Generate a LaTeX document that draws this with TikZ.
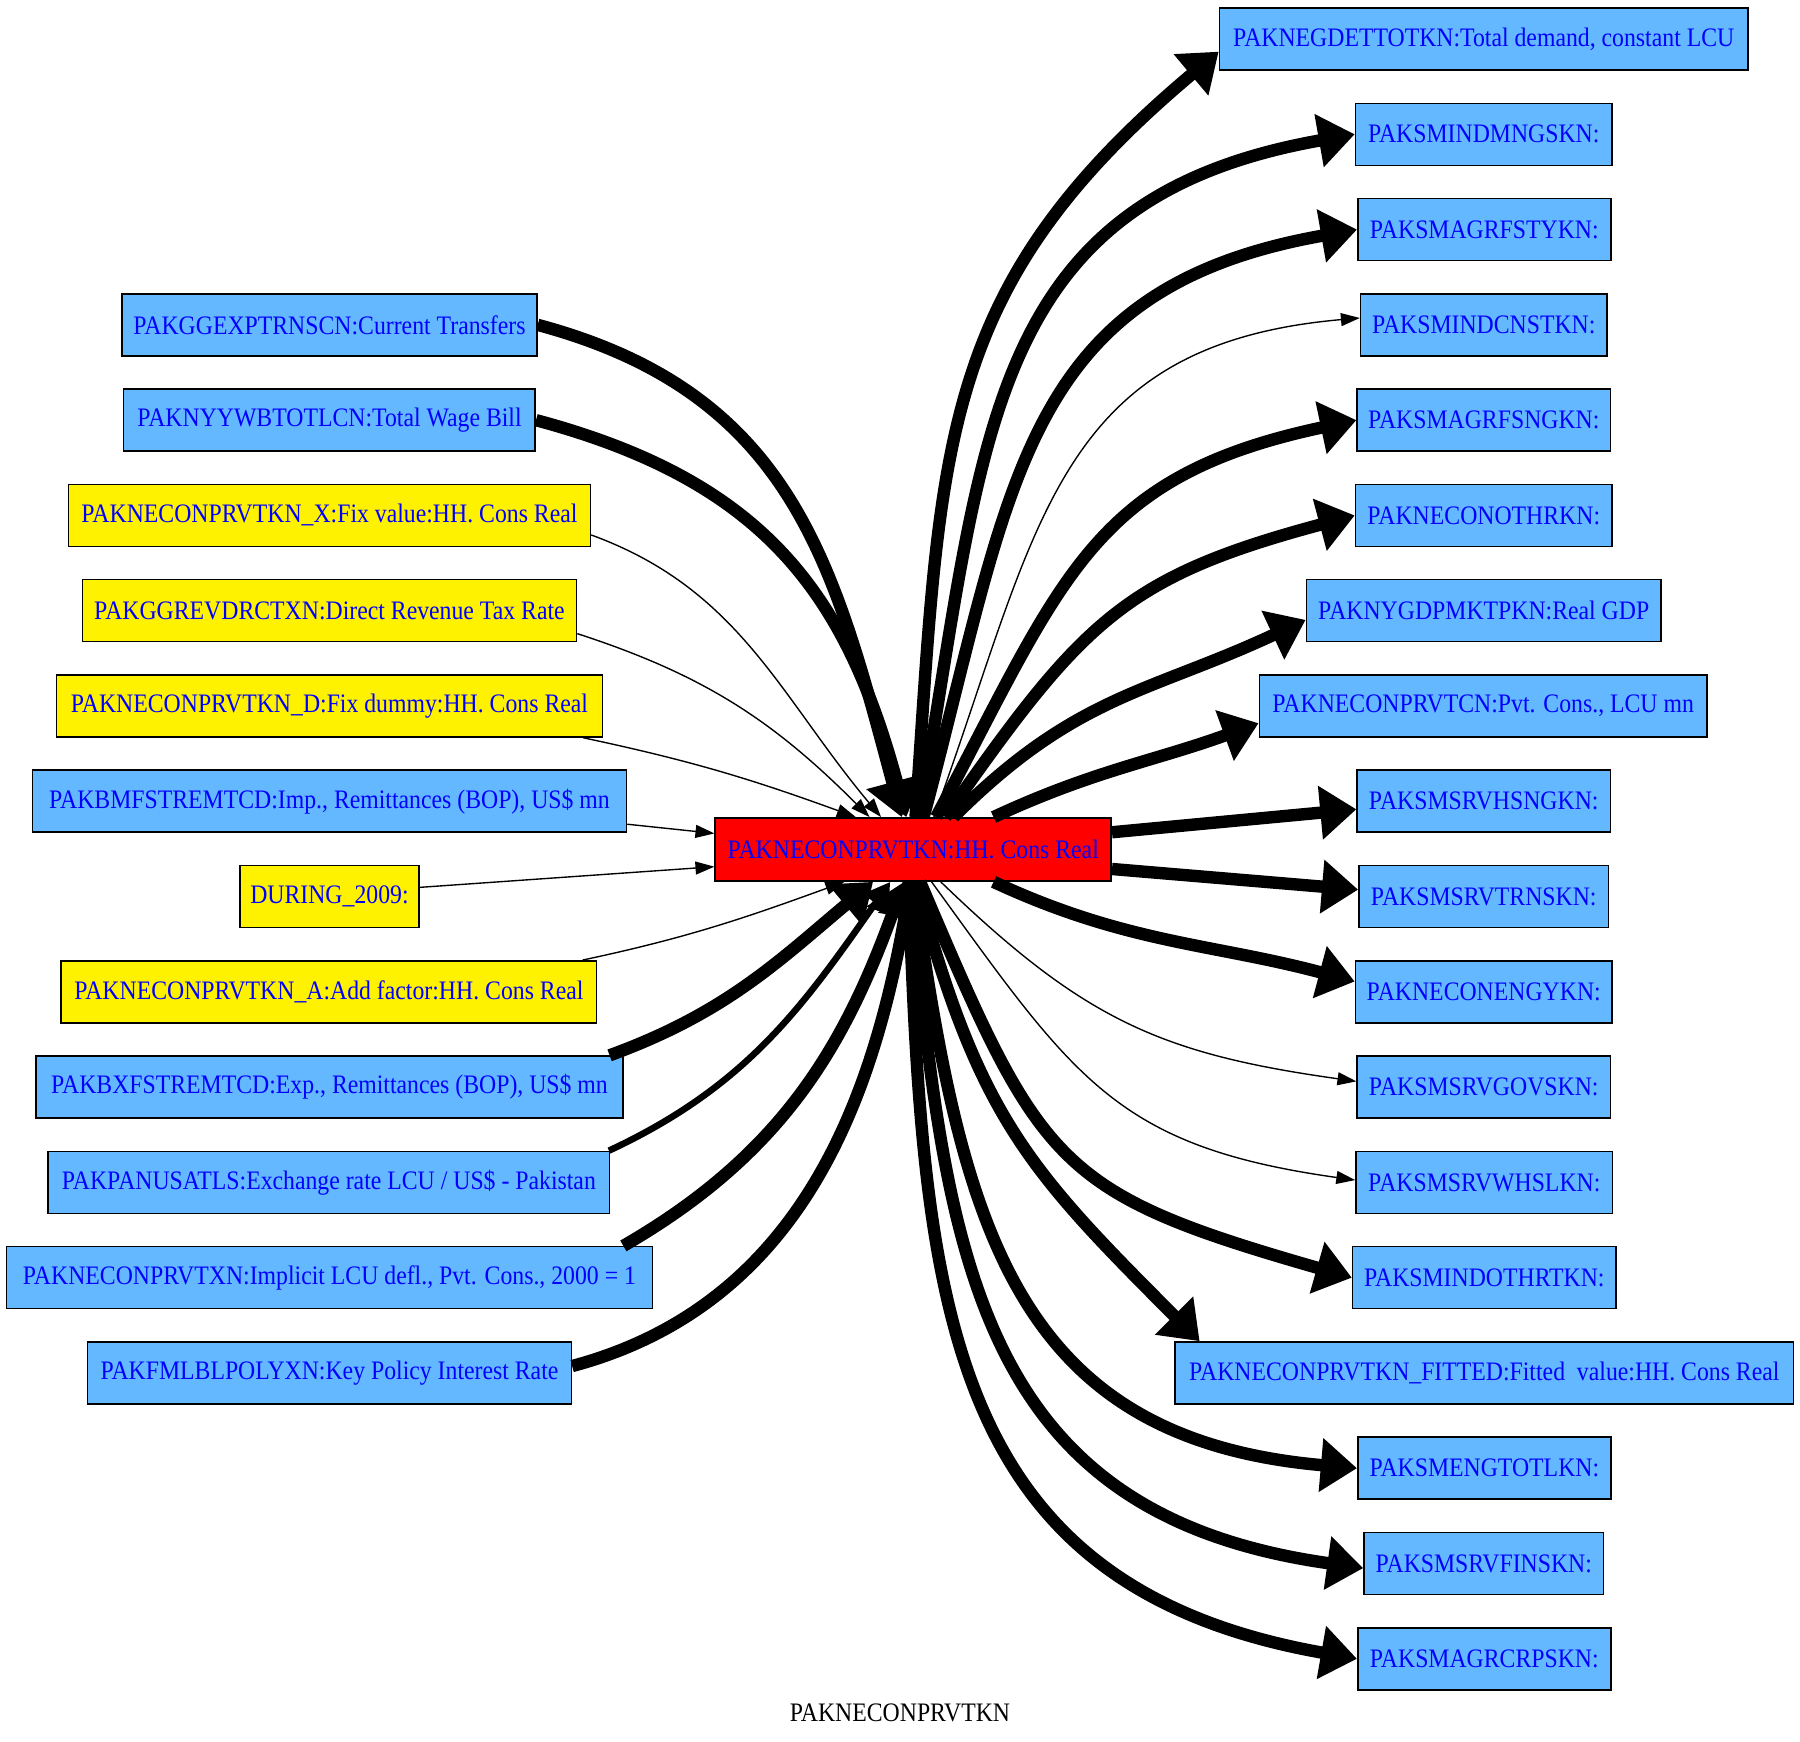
\documentclass[tikz,border=0pt]{standalone}
\usepackage{fontspec}
\setmainfont{Liberation Serif}[FakeStretch=0.89]
\usetikzlibrary{arrows.meta,calc}
\definecolor{nodeblue}{HTML}{63B8FF}

\begin{document}
\begin{tikzpicture}[
    x=0.6667pt, y=0.6667pt,
    basebox/.style={draw, line width=0.9pt, minimum height=36pt, inner xsep=1pt, text=blue, font=\fontsize{15.5}{18}\selectfont},
    varbox/.style={basebox, fill=nodeblue},
    fixbox/.style={basebox, fill=yellow},
    mainbox/.style={basebox, fill=red, minimum height=36.7pt},
    bigarrow/.style={line width=7.2pt, -{Triangle[length=21pt,width=30pt]}},
    midarrow/.style={line width=3.8pt, -{Triangle[length=15pt,width=17pt]}},
    thinarrow/.style={line width=0.8pt, -{Triangle[length=11pt,width=7.5pt]}}
]
\useasboundingbox (0,0) rectangle (1568,1517);

% inputs
\node[varbox, minimum width=241pt] (l1) at (287,1234) {PAKGGEXPTRNSCN:Current Transfers};
\node[varbox, minimum width=239pt] (l2) at (287,1151) {PAKNYYWBTOTLCN:Total Wage Bill};
\node[fixbox, minimum width=303pt] (l3) at (287,1068) {PAKNECONPRVTKN\_X:Fix value:HH. Cons Real};
\node[fixbox, minimum width=287pt] (l4) at (287,985) {PAKGGREVDRCTXN:Direct Revenue Tax Rate};
\node[fixbox, minimum width=317pt] (l5) at (287,902) {PAKNECONPRVTKN\_D:Fix dummy:HH. Cons Real};
\node[varbox, minimum width=345pt] (l6) at (287,819) {PAKBMFSTREMTCD:Imp., Remittances (BOP), US\$ mn};
\node[fixbox, minimum width=104pt] (l7) at (287,736) {DURING\_2009:};
\node[fixbox, minimum width=311pt] (l8) at (286.5,653) {PAKNECONPRVTKN\_A:Add factor:HH. Cons Real};
\node[varbox, minimum width=341pt] (l9) at (287,570) {PAKBXFSTREMTCD:Exp., Remittances (BOP), US\$ mn};
\node[varbox, minimum width=326pt] (l10) at (286.5,487) {PAKPANUSATLS:Exchange rate LCU / US\$ - Pakistan};
\node[varbox, minimum width=375pt] (l11) at (287,404) {PAKNECONPRVTXN:Implicit LCU defl., Pvt. Cons., 2000 = 1};
\node[varbox, minimum width=281pt] (l12) at (287,321) {PAKFMLBLPOLYXN:Key Policy Interest Rate};

% the variable
\node[mainbox, minimum width=230pt] (c) at (795.5,777) {PAKNECONPRVTKN:HH. Cons Real};

% outputs
\node[varbox, minimum width=307pt] (r1) at (1292.5,1483) {PAKNEGDETTOTKN:Total demand, constant LCU};
\node[varbox, minimum width=149pt] (r2) at (1292.5,1400) {PAKSMINDMNGSKN:};
\node[varbox, minimum width=147pt] (r3) at (1293,1317) {PAKSMAGRFSTYKN:};
\node[varbox, minimum width=143pt] (r4) at (1292.5,1234) {PAKSMINDCNSTKN:};
\node[varbox, minimum width=147pt] (r5) at (1292.5,1151) {PAKSMAGRFSNGKN:};
\node[varbox, minimum width=149pt] (r6) at (1292.5,1068) {PAKNECONOTHRKN:};
\node[varbox, minimum width=206pt] (r7) at (1292.5,985) {PAKNYGDPMKTPKN:Real GDP};
\node[varbox, minimum width=260pt] (r8) at (1292,902) {PAKNECONPRVTCN:Pvt. Cons., LCU mn};
\node[varbox, minimum width=147pt] (r9) at (1292.5,819) {PAKSMSRVHSNGKN:};
\node[varbox, minimum width=145pt] (r10) at (1292.5,736) {PAKSMSRVTRNSKN:};
\node[varbox, minimum width=149pt] (r11) at (1292.5,653) {PAKNECONENGYKN:};
\node[varbox, minimum width=147pt] (r12) at (1292.5,570) {PAKSMSRVGOVSKN:};
\node[varbox, minimum width=149pt] (r13) at (1293,487) {PAKSMSRVWHSLKN:};
\node[varbox, minimum width=153pt] (r14) at (1293,404) {PAKSMINDOTHRTKN:};
\node[varbox, minimum width=359pt] (r15) at (1293,321) {PAKNECONPRVTKN\_FITTED:Fitted\ \ value:HH. Cons Real};
\node[varbox, minimum width=147pt] (r16) at (1293,238) {PAKSMENGTOTLKN:};
\node[varbox, minimum width=139pt] (r17) at (1292.5,155) {PAKSMSRVFINSKN:};
\node[varbox, minimum width=147pt] (r18) at (1293,72) {PAKSMAGRCRPSKN:};

\node[font=\fontsize{15.5}{18}\selectfont] (title) at (784,25) {PAKNECONPRVTKN};

% edges into the variable
\draw[bigarrow] (l1.east) to[out=-15,in=105,looseness=1.1] ($(c.north)+(-10,0)$);
\draw[bigarrow] (l2.east) to[out=-15,in=105,looseness=1.1] ($(c.north)+(-6,0)$);
\draw[thinarrow] ($(l3.east)+(0,-17)$) to[out=-20,in=130] ($(c.north)+(-28,0)$);
\draw[thinarrow] ($(l4.east)+(0,-20)$) to[out=-18,in=135] ($(c.north)+(-38,0)$);
\draw[thinarrow] ($(l5.south)+(221,0)$) to[out=-12,in=160] ($(c.north)+(-50,0)$);
\draw[thinarrow] ($(l6.east)+(0,-20)$) -- ($(c.west)+(0,14)$);
\draw[thinarrow] ($(l7.east)+(0,8)$) -- ($(c.west)+(0,-15)$);
\draw[thinarrow] ($(l8.north)+(221,0)$) to[out=12,in=-160] ($(c.south)+(-60,0)$);
\draw[bigarrow] ($(l9.north)+(244,0)$) to[out=20,in=-140] ($(c.south)+(-35,0)$);
\draw[midarrow] ($(l10.north)+(244,0)$) to[out=25,in=-125] ($(c.south)+(-20,0)$);
\draw[bigarrow] ($(l11.north)+(256,0)$) to[out=30,in=-110] ($(c.south)+(-8,0)$);
\draw[bigarrow] ($(l12.east)+(0,6)$) to[out=15,in=-100] ($(c.south)+(-2,0)$);

% edges out of the variable
\draw[bigarrow] ($(c.north)+(2,0)$) to[out=86,in=-140,looseness=1.15] ($(r1.west)+(0,-11)$);
\draw[bigarrow] ($(c.north)+(5,0)$) to[out=80,in=-170,looseness=1.2] (r2.west);
\draw[bigarrow] ($(c.north)+(9,0)$) to[out=75,in=-170,looseness=1.2] (r3.west);
\draw[thinarrow] ($(c.north)+(18,0)$) to[out=70,in=-175,looseness=1.2] ($(r4.west)+(0,6)$);
\draw[bigarrow] ($(c.north)+(20,0)$) to[out=62,in=-168,looseness=1.2] (r5.west);
\draw[bigarrow] ($(c.north)+(28,0)$) to[out=55,in=-165,looseness=1.2] (r6.west);
\draw[bigarrow] ($(c.north)+(35,0)$) to[out=45,in=-155,looseness=1.1] ($(r7.west)+(0,-8)$);
\draw[bigarrow] ($(c.north)+(70,0)$) to[out=25,in=-160] ($(r8.west)+(0,-15)$);
\draw[bigarrow] ($(c.east)+(0,15)$) -- ($(r9.west)+(0,-7)$);
\draw[bigarrow] ($(c.east)+(0,-17)$) -- ($(r10.west)+(0,6)$);
\draw[bigarrow] ($(c.south)+(70,0)$) to[out=-25,in=165] ($(r11.west)+(0,9)$);
\draw[thinarrow] ($(c.south)+(24,0)$) to[out=-44,in=172,looseness=1.1] ($(r12.west)+(0,5)$);
\draw[thinarrow] ($(c.south)+(16,0)$) to[out=-54,in=172,looseness=1.2] ($(r13.west)+(0,2)$);
\draw[bigarrow] ($(c.south)+(6,0)$) to[out=-67,in=164,looseness=1.35] (r14.west);
\draw[bigarrow] ($(c.south)+(2,0)$) to[out=-75,in=135,looseness=1.15] ($(r15.north)+(-248,0)$);
\draw[bigarrow] (c.south) to[out=-82,in=175,looseness=1.2] (r16.west);
\draw[bigarrow] ($(c.south)+(-2,0)$) to[out=-85,in=172,looseness=1.2] ($(r17.west)+(0,-4)$);
\draw[bigarrow] ($(c.south)+(-4,0)$) to[out=-88,in=170,looseness=1.2] (r18.west);
\end{tikzpicture}
\end{document}
